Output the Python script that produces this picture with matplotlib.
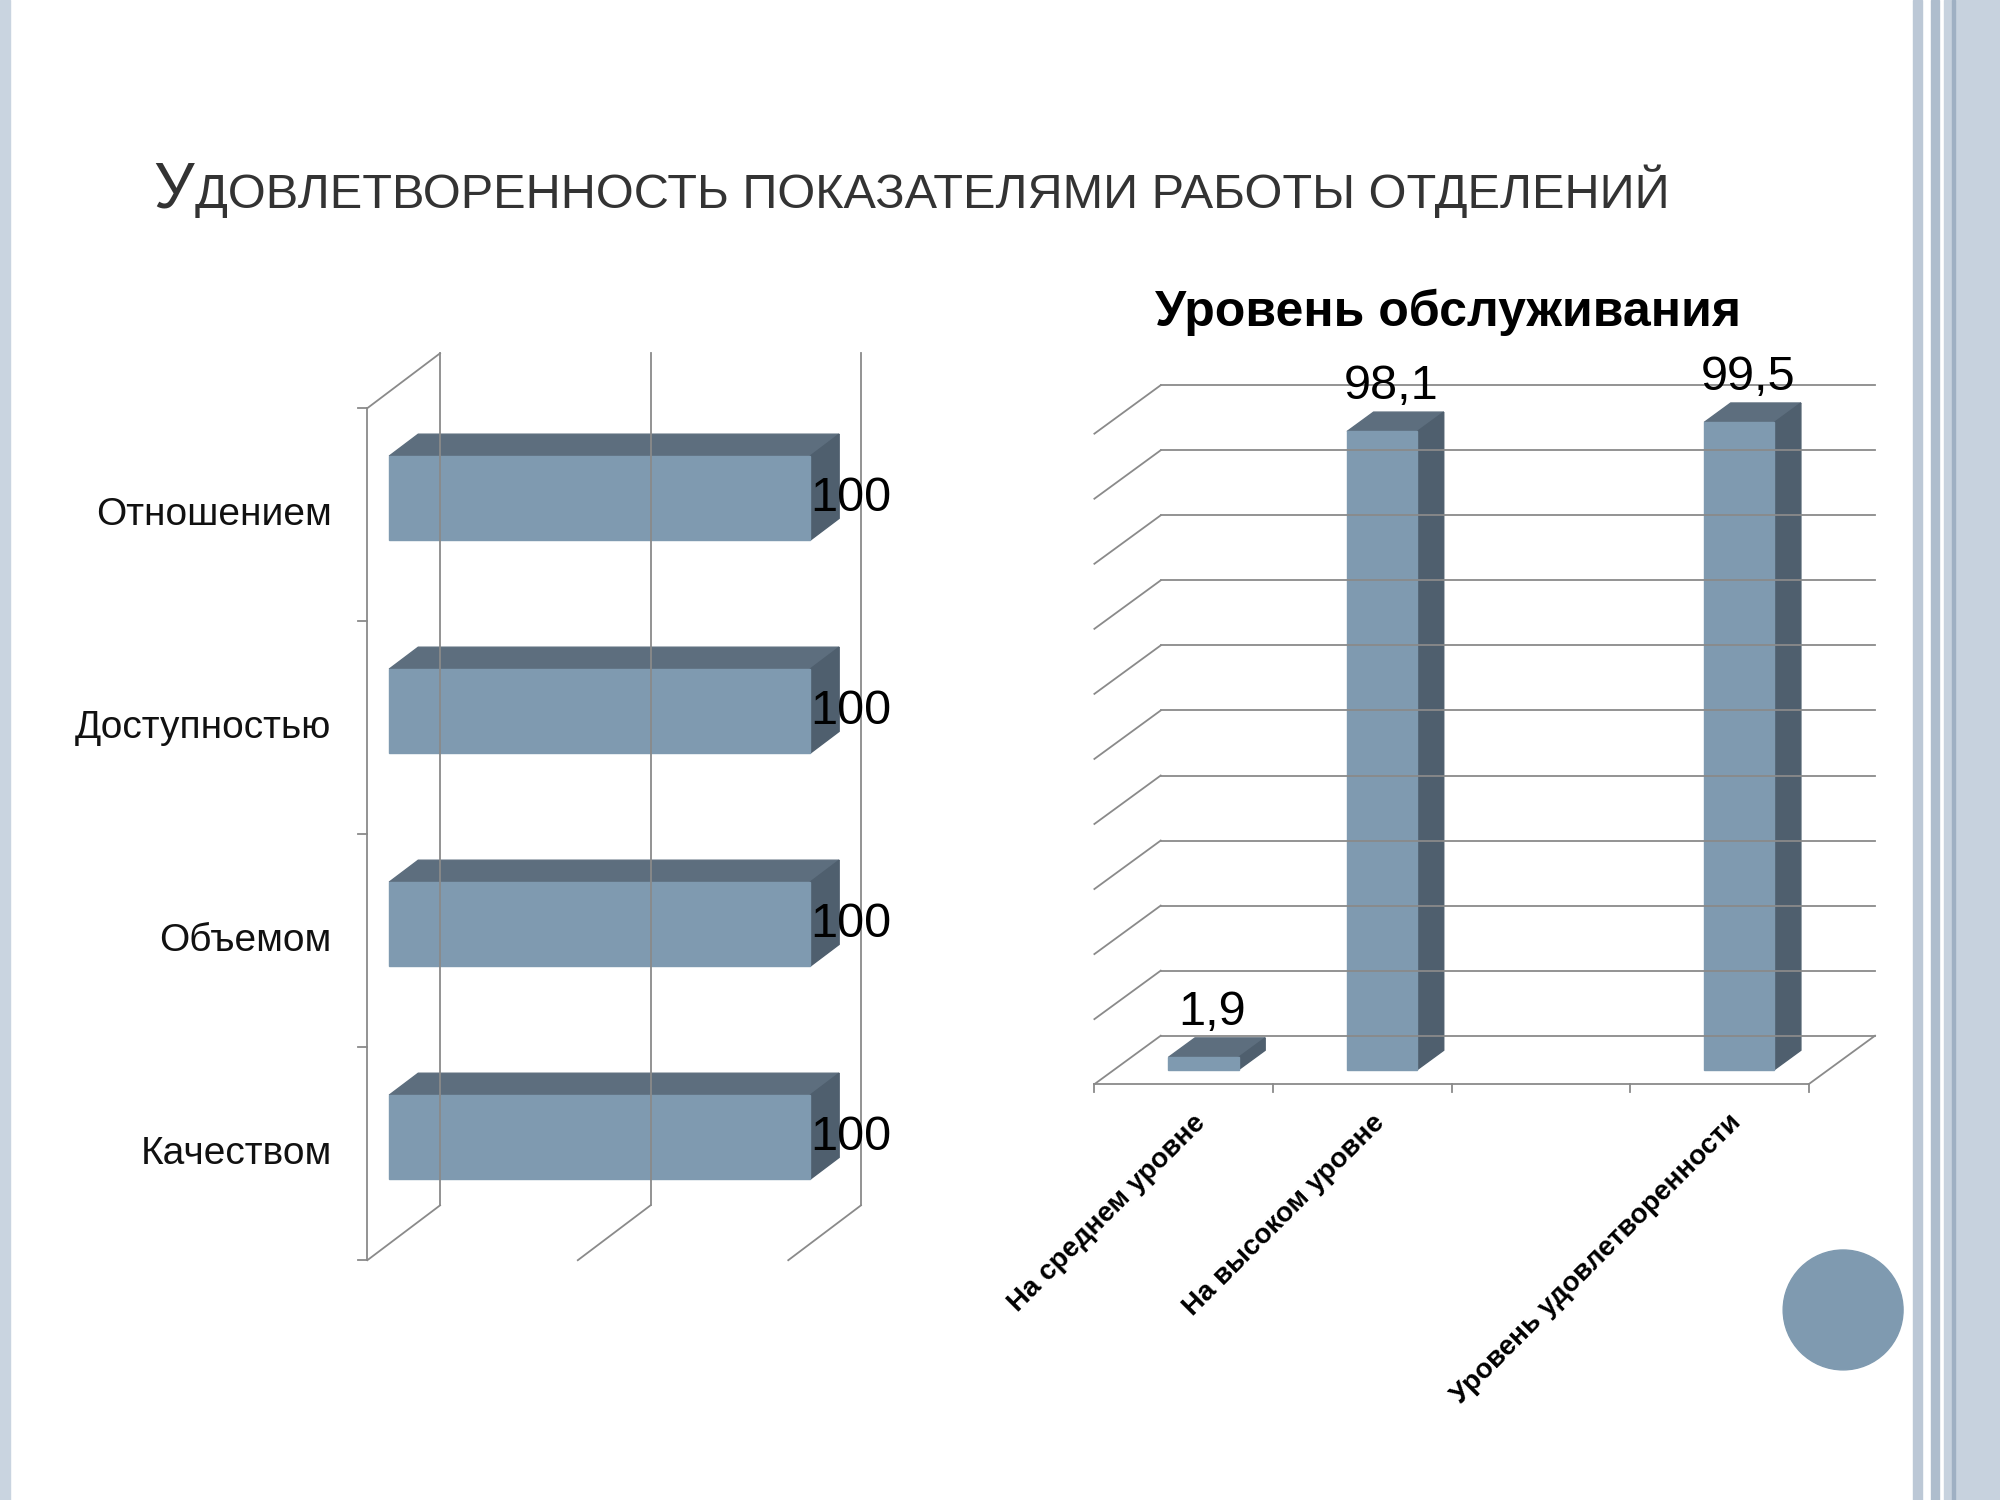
import numpy as np
import matplotlib
matplotlib.use("Agg")
import matplotlib.pyplot as plt
from matplotlib.patches import Polygon, Rectangle, Circle

plt.rcParams["font.family"] = "Liberation Sans"

# data
left_cats = ["Отношением", "Доступностью", "Объемом", "Качеством"]
left_vals = [100, 100, 100, 100]
right_cats = ["На среднем уровне", "На высоком уровне", "", "Уровень удовлетворенности"]
right_vals = [1.9, 98.1, np.nan, 99.5]

FRONT = "#7f9ab0"
TOP = "#5d6e7e"
SIDE = "#4f5f6e"
GRID = "#8a8a8a"
W, H = 1568, 1176  # layout reference units


def fig_axes(fig, x0, y0, x1, y1):
    return fig.add_axes([x0 / W, 1 - y1 / H, (x1 - x0) / W, (y1 - y0) / H])


fig = plt.figure(figsize=(20, 15), dpi=100)

# slide decoration
deco = fig.add_axes([0, 0, 1, 1])
deco.set_xlim(0, W)
deco.set_ylim(H, 0)
deco.axis("off")
deco.add_patch(Rectangle((0, 0), 8, H, color="#c9d4e0"))
deco.add_patch(Rectangle((1500, 0), 7, H, color="#bcc8d6"))
deco.add_patch(Rectangle((1514, 0), 6, H, color="#aebdcd"))
deco.add_patch(Rectangle((1524, 0), 44, H, color="#c7d2de"))
deco.add_patch(Rectangle((1530, 0), 3, H, color="#9fb0c3"))
deco.add_patch(Circle((1445, 1027), 47, color=FRONT))

# slide title (small caps)
t1 = deco.text(120, 163, "У", fontsize=46, color="#333333", va="baseline")
fig.canvas.draw()
bb = t1.get_window_extent()
x_next = deco.transData.inverted().transform((bb.x1, 0))[0]
deco.text(x_next + 1, 163, "ДОВЛЕТВОРЕННОСТЬ ПОКАЗАТЕЛЯМИ РАБОТЫ ОТДЕЛЕНИЙ",
          fontsize=35, color="#333333", va="baseline")

# ---- left chart: horizontal 3D bars ----
ax = fig_axes(fig, 270, 265, 720, 1000)
px_per_val = 3.3
px_per_cat = 167
ax.set_xlim(-18 / px_per_val, 432 / px_per_val)
ax.set_ylim((1000 - 403.5) / px_per_cat, (265 - 403.5) / px_per_cat)
ax.axis("off")
DX = 57 / px_per_val
DY = -43 / px_per_cat
n = len(left_cats)
lo, hi = -0.5, n - 0.5
kw = dict(color=GRID, lw=1.3)
ax.plot([0, 0], [lo, hi], **kw)
for y in np.arange(lo, hi + 0.01, 1):
    ax.plot([-2.2, 0], [y, y], **kw)
ax.plot([0, DX], [lo, lo + DY], **kw)
for v in [0, 50, 100]:
    ax.plot([v + DX, v + DX], [lo + DY, hi + DY], **kw)
    ax.plot([v, v + DX], [hi, hi + DY], **kw)
d0, dd = 0.3, 0.4
bh = 66 / px_per_cat
for i, (c, v) in enumerate(zip(left_cats, left_vals)):
    x0 = d0 * DX
    yc = i + d0 * DY
    yt, yb = yc - bh / 2, yc + bh / 2
    ox, oy = dd * DX, dd * DY
    ax.add_patch(Polygon([(x0, yt), (x0 + v, yt), (x0 + v + ox, yt + oy), (x0 + ox, yt + oy)], color=TOP))
    ax.add_patch(Polygon([(x0 + v, yt), (x0 + v + ox, yt + oy), (x0 + v + ox, yb + oy), (x0 + v, yb)], color=SIDE))
    ax.add_patch(Rectangle((x0, yt), v, bh, color=FRONT))
    ax.text(x0 + v, yc, f"{v:g}", fontsize=35, ha="left", va="center", color="black")
    ax.text(-8.5, i, c, fontsize=28, ha="right", va="center", color="#111111", clip_on=False)

# ---- right chart: vertical 3D bars ----
ax2 = fig_axes(fig, 840, 280, 1490, 870)
px_cat = 140
px_val = 5.1
ax2.set_xlim((840 - 928) / px_cat, (1490 - 928) / px_cat)
ax2.set_ylim(-(870 - 850) / px_val, (850 - 280) / px_val)
ax2.axis("off")
DX2 = 52 / px_cat
DY2 = 38 / px_val
m = len(right_cats)
lo, hi = -0.5, m - 0.5
for v in range(0, 101, 10):
    ax2.plot([lo + DX2, hi + DX2], [v + DY2, v + DY2], **kw)
    ax2.plot([lo, lo + DX2], [v, v + DY2], **kw)
ax2.plot([lo, hi], [0, 0], **kw)
ax2.plot([hi, hi + DX2], [0, DY2], **kw)
for x in np.arange(lo, hi + 0.01, 1):
    ax2.plot([x, x], [0, -6 / px_val], **kw)
bw = 55 / px_cat
for i, (c, v) in enumerate(zip(right_cats, right_vals)):
    if c:
        ax2.text(i + 0.05, -20 / px_val, c, fontsize=20, fontweight="bold", rotation=45,
                 ha="right", va="top", color="black", clip_on=False, rotation_mode="anchor")
    if np.isnan(v):
        continue
    xc = i + d0 * DX2
    yb = d0 * DY2
    xl, xr = xc - bw / 2, xc + bw / 2
    ox, oy = dd * DX2, dd * DY2
    ax2.add_patch(Polygon([(xl, yb + v), (xr, yb + v), (xr + ox, yb + v + oy), (xl + ox, yb + v + oy)], color=TOP))
    ax2.add_patch(Polygon([(xr, yb), (xr + ox, yb + oy), (xr + ox, yb + v + oy), (xr, yb + v)], color=SIDE))
    ax2.add_patch(Rectangle((xl, yb), bw, v, color=FRONT))
    ax2.text(xc + 0.05, yb + v + oy + 0.5, f"{v:g}".replace(".", ","), fontsize=35,
             ha="center", va="bottom", color="black", clip_on=False)

deco.text(1135, 245, "Уровень обслуживания", fontsize=36, fontweight="bold",
          ha="center", va="center", color="black")

fig.savefig("out.png", dpi=100)
